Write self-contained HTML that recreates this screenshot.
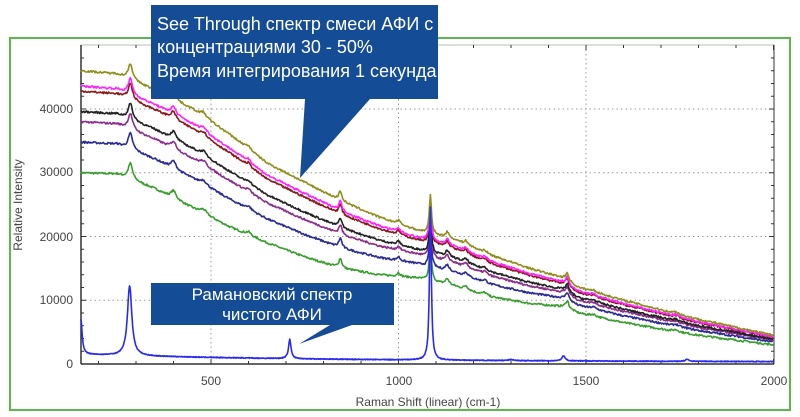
<!DOCTYPE html>
<html><head><meta charset="utf-8"><style>
html,body{margin:0;padding:0;background:#fff;width:800px;height:417px;overflow:hidden}
svg{display:block}
.t{font-family:"Liberation Sans",Arial,sans-serif;font-size:12px;fill:#444}
.c{font-family:"Liberation Sans","Noto Sans CJK SC",sans-serif;fill:#fff}
</style></head><body>
<svg id="s" width="800" height="417" xmlns="http://www.w3.org/2000/svg">
<rect x="10" y="38" width="780" height="372" fill="#fff" stroke="#5cb84a" stroke-width="2"/>
<g id="grid" stroke="#999" stroke-width="1" stroke-dasharray="1.5,3"></g>
<rect x="81" y="45" width="693" height="319" fill="none" stroke="#bbb" stroke-width="1"/>
<line x1="81" y1="45" x2="81" y2="364" stroke="#333" stroke-width="1.5"/>
<line x1="81" y1="364" x2="774" y2="364" stroke="#333" stroke-width="1.5"/>
<line x1="774" y1="45" x2="774" y2="364" stroke="#333" stroke-width="1"/>
<g id="ticks" stroke="#333" stroke-width="1"></g>
<g id="series" fill="none" stroke-width="1.6" stroke-linejoin="round"></g>
<g class="t">
<text x="73" y="113" text-anchor="end">40000</text>
<text x="73" y="176" text-anchor="end">30000</text>
<text x="73" y="241" text-anchor="end">20000</text>
<text x="73" y="304" text-anchor="end">10000</text>
<text x="73" y="368" text-anchor="end">0</text>
<text x="211" y="385" text-anchor="middle">500</text>
<text x="399" y="385" text-anchor="middle">1000</text>
<text x="586" y="385" text-anchor="middle">1500</text>
<text x="774" y="385" text-anchor="middle">2000</text>
<text x="428" y="406" text-anchor="middle">Raman Shift (linear) (cm-1)</text>
<text transform="translate(22,205) rotate(-90)" text-anchor="middle">Relative Intensity</text>
</g>
<path d="M151,5 H438 V99 H370 L300,178 L305,99 H151 Z" fill="#154c96"/>
<text class="c" font-size="18" x="157" y="30">See Through спектр смеси АФИ с</text>
<text class="c" font-size="18" x="157" y="53">концентрациями 30 - 50%</text>
<text class="c" font-size="18" x="157" y="77">Время интегрирования 1 секунда</text>
<path d="M151,283 H394 V325 H352 L299,344 L330,325 H151 Z" fill="#154c96"/>
<text class="c" font-size="17" x="272" y="300" text-anchor="middle">Рамановский спектр</text>
<text class="c" font-size="17" x="272" y="320" text-anchor="middle">чистого АФИ</text>
</svg>
<script>
(function(){
var NS="http://www.w3.org/2000/svg";
function px(x){return 211+(x-500)*0.375;}
function py(v){return 364-v*0.006375;}
function el(p,tag,a){var e=document.createElementNS(NS,tag);for(var k in a)e.setAttribute(k,a[k]);p.appendChild(e);return e;}
var g=document.getElementById('grid'),tk=document.getElementById('ticks'),sr=document.getElementById('series');
[10000,20000,30000,40000].forEach(function(v){el(g,'line',{x1:81,x2:774,y1:py(v),y2:py(v)});});
[500,1000,1500].forEach(function(x){el(g,'line',{x1:px(x),x2:px(x),y1:45,y2:364});});
for(var v=0;v<=48000;v+=2000){var y=py(v);if(y<45)break;var L=(v%10000==0)?5:3;el(tk,'line',{x1:81,x2:81+L,y1:y,y2:y});el(tk,'line',{x1:774-L,x2:774,y1:y,y2:y});}
for(var x=200;x<=2000;x+=100){var X=px(x),L=(x%500==0)?5:3;el(tk,'line',{x1:X,x2:X,y1:364-L,y2:364});el(tk,'line',{x1:X,x2:X,y1:45,y2:45+L});}
var ol=[[153,46000],[250,45500],[350,43000],[450,40000],[550,36000],[650,31500],[750,28500],[850,25500],[950,23000],[1050,21000],[1150,19500],[1250,17000],[1350,15000],[1440,13500],[1480,12000],[1600,10000],[1800,7000],[2000,4500]];
var gr=[[153,30000],[250,29800],[350,27500],[450,24500],[550,21500],[650,19000],[750,16800],[850,15000],[950,14000],[1050,13500],[1150,12200],[1250,10500],[1350,9500],[1440,9000],[1480,8000],[1600,6500],[1800,4500],[2000,3000]];
function interp(t,x){for(var i=0;i<t.length-1;i++){if(x<=t[i+1][0]){var f=(x-t[i][0])/(t[i+1][0]-t[i][0]);return t[i][1]+f*(t[i+1][1]-t[i][1]);}}return t[t.length-1][1];}
function lor(x,c,w,a){var d=(x-c)/w;return a/(1+d*d);}
var mp=[[285,2500,7],[400,1200,8],[480,700,10],[600,500,8],[845,1500,5],[1000,600,5],[1085,6000,3.5],[1130,900,6],[1180,600,6],[1230,400,6],[1450,1200,5],[1520,300,8],[1740,300,8]];
var seed=7;function rnd(){seed=(seed*16807)%2147483647;return seed/2147483647-0.5;}
var ser=[["#3a9e2f",0],["#2b2b95",0.3],["#8c2e8c",0.5],["#222",0.6],["#8b1a1a",0.8],["#ff22ff",0.85],["#8f8f1c",1]];
ser.forEach(function(s){var d="";for(var x=153;x<=2000;x+=2){var b=interp(gr,x)+s[1]*(interp(ol,x)-interp(gr,x));mp.forEach(function(p){b+=lor(x,p[0],p[2],p[1]);});b+=rnd()*300;d+=(d?"L":"M")+px(x).toFixed(1)+","+py(b).toFixed(1);}
el(sr,'path',{d:d,stroke:s[0]});});
var bp=[[153,5500,4],[283,11000,7],[710,3000,4],[1085,24000,3],[1440,800,5],[1770,300,6],[1300,150,8]];
var d="";for(var x=153;x<=2000;x+=1){var b=300+1200*Math.exp(-(x-153)/700);bp.forEach(function(p){b+=lor(x,p[0],p[2],p[1]);});b+=rnd()*120;d+=(d?"L":"M")+px(x).toFixed(1)+","+py(b).toFixed(1);}
el(sr,'path',{d:d,stroke:"#2a2aee"});
})();
</script>
</body></html>
